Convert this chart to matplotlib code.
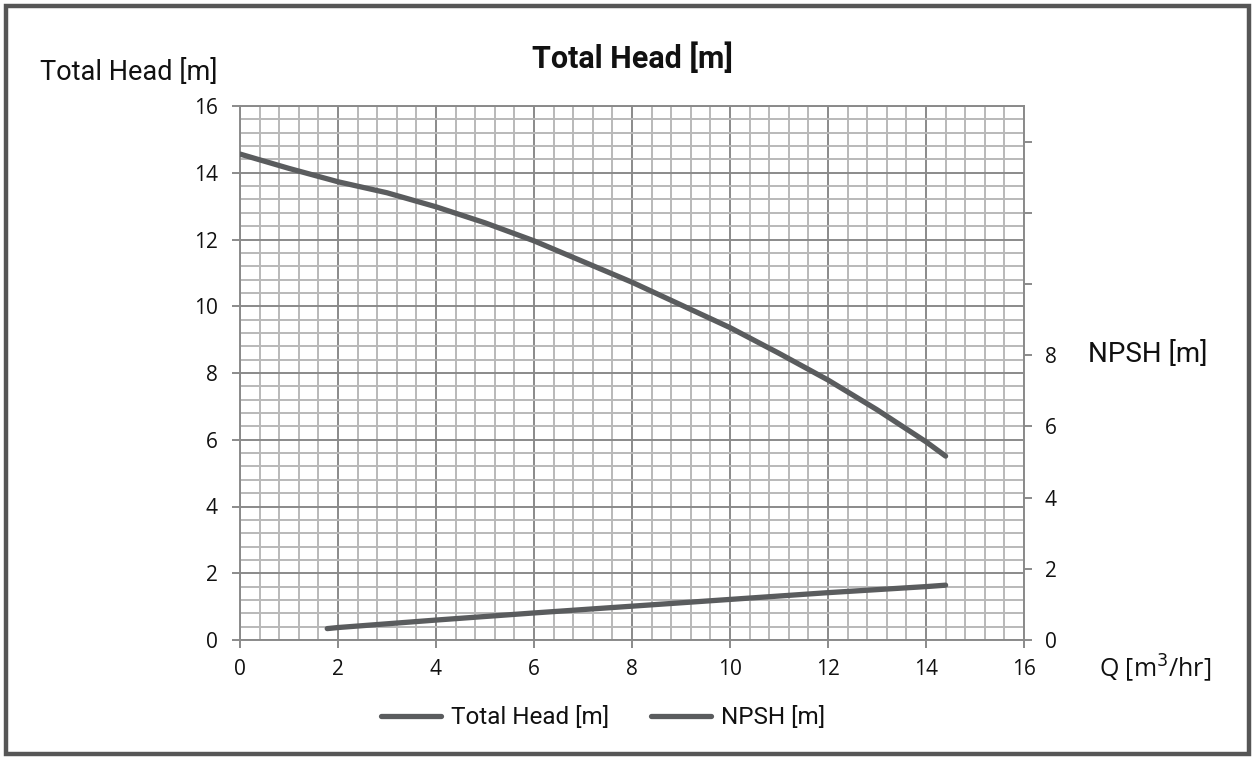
import matplotlib
matplotlib.use("Agg")
import matplotlib.pyplot as plt
from matplotlib.ticker import MultipleLocator, FixedLocator
from matplotlib.patches import Rectangle

# Data
head_q = [0, 1, 2, 3, 4, 5, 6, 7, 8, 9, 10, 11, 12, 13, 14, 14.4]
head_h = [14.56, 14.13, 13.73, 13.40, 12.98, 12.50, 11.96, 11.34, 10.72, 10.04, 9.36, 8.59, 7.79, 6.90, 5.94, 5.51]
npsh_q = [1.78, 2, 4, 6, 8, 10, 12, 14, 14.4]
npsh_h = [0.32, 0.35, 0.56, 0.76, 0.95, 1.14, 1.33, 1.50, 1.54]
x_ticks = [0, 2, 4, 6, 8, 10, 12, 14, 16]
left_ticks = [0, 2, 4, 6, 8, 10, 12, 14, 16]
right_ticks = [0, 2, 4, 6, 8, 10, 12, 14]
right_labels = ["0", "2", "4", "6", "8", "", "", ""]

LINE = "#5a5c5e"
MAJ = "#8a8a8a"
MIN = "#b9b9b9"
TXT = "#111111"
TICKFONT = ["Open Sans", "DejaVu Sans"]
LABFONT = ["Roboto", "DejaVu Sans"]

fig = plt.figure(figsize=(12.55, 7.6), dpi=100)
ax = fig.add_axes([240/1255, 1-640/760, (1024-240)/1255, (640-106)/760])

ax.set_xlim(0, 16)
ax.set_ylim(0, 16)
ax.xaxis.set_major_locator(FixedLocator(x_ticks))
ax.yaxis.set_major_locator(FixedLocator(left_ticks))
ax.xaxis.set_minor_locator(MultipleLocator(0.4))
ax.yaxis.set_minor_locator(MultipleLocator(0.4))
ax.grid(which="minor", color=MIN, lw=1.4, zorder=0)
ax.grid(which="major", color=MAJ, lw=1.4, zorder=0)
ax.set_axisbelow(True)
ax.tick_params(which="minor", length=0)
ax.tick_params(which="major", direction="out", length=6, width=1.4, color=MAJ,
               labelsize=15, labelcolor=TXT)
ax.tick_params(axis="x", pad=8)
ax.tick_params(axis="y", pad=10)
for s in ax.spines.values():
    s.set_color(MAJ)
    s.set_linewidth(1.4)
for lab in ax.get_xticklabels() + ax.get_yticklabels():
    lab.set_family(TICKFONT)

l1, = ax.plot(head_q, head_h, color=LINE, lw=3.8, solid_capstyle="round", zorder=3)

ax2 = ax.twinx()
ax2.set_ylim(0, 15)
ax2.yaxis.set_major_locator(FixedLocator(right_ticks))
ax2.set_yticklabels(right_labels)
ax2.tick_params(axis="y", direction="out", length=6, width=1.4, color=MAJ,
                labelsize=15, labelcolor=TXT, pad=9)
for lab in ax2.get_yticklabels():
    lab.set_family(TICKFONT)
for s in ax2.spines.values():
    s.set_visible(False)
l2, = ax2.plot(npsh_q, npsh_h, color=LINE, lw=3.8, solid_capstyle="round", zorder=3)

fig.text(632/1255, 1-58/760, "Total Head [m]", ha="center", va="center",
         fontsize=22, fontweight="bold", family=LABFONT, color=TXT)
fig.text(40/1255, 1-73/760, "Total Head [m]", ha="left", va="center",
         fontsize=19.5, family=LABFONT, color=TXT)
fig.text(1088/1255, 1-355/760, "NPSH [m]", ha="left", va="center",
         fontsize=20, family=LABFONT, color=TXT)
fig.text(1099/1255, 1-668/760, "Q [m$^3$/hr]", ha="left", va="center",
         fontsize=18, family=TICKFONT, color=TXT)

leg = fig.legend([l1, l2], ["Total Head [m]", "NPSH [m]"], loc="center",
                 bbox_to_anchor=(603/1255, 1-718/760), ncol=2, frameon=False,
                 handlelength=2.45, columnspacing=1.75, handletextpad=0.4,
                 prop={"family": LABFONT, "size": 17.5})
for t in leg.get_texts():
    t.set_color(TXT)

fig.patches.append(Rectangle((6/1255, 6/760), 1-12/1255, 1-12/760,
                             transform=fig.transFigure, fill=False,
                             edgecolor="#565656", lw=3.2))

fig.savefig("out.png", dpi=100, facecolor="white")
